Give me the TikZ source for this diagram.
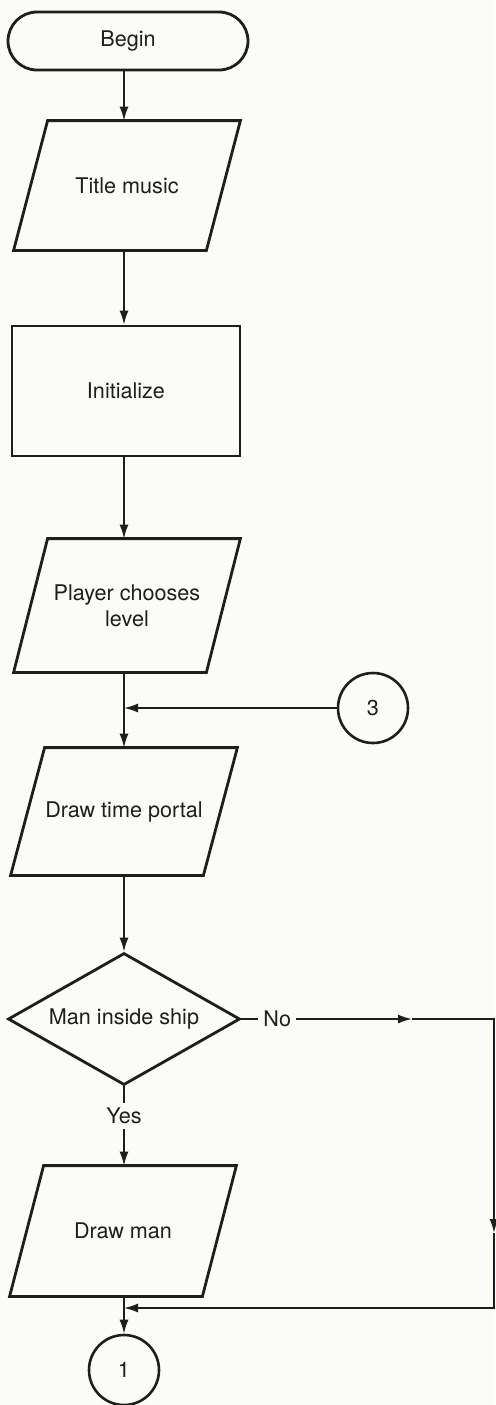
\documentclass[tikz,border=0pt]{standalone}
\usepackage{fontspec}
\setmainfont{TeX Gyre Heros}
\usetikzlibrary{arrows.meta,shapes.geometric,calc}
\definecolor{paper}{HTML}{FBFBF7}
\definecolor{ink}{HTML}{1E1E1E}
\tikzset{flow/.style={-{Latex[length=7pt,width=4.5pt]}, line width=.85pt, color=ink}, link/.style={line width=.85pt, color=ink}, term/.style={draw=ink, line width=1.4pt, rounded corners=14.5pt, minimum width=120pt, minimum height=29pt}, io/.style={rectangle, minimum width=96pt, minimum height=64.5pt, align=center, append after command={\pgfextra{\draw[ink, line width=1.4pt] ([xshift=-8.5pt]\tikzlastnode.south west) -- ([xshift=8.5pt]\tikzlastnode.north west) -- ([xshift=8.5pt]\tikzlastnode.north east) -- ([xshift=-8.5pt]\tikzlastnode.south east) -- cycle;}}}, proc/.style={rectangle, draw=ink, line width=1.4pt, minimum width=114pt, minimum height=65pt}, decide/.style={diamond, draw=ink, line width=1.4pt, shape aspect=1.75, inner sep=0pt, minimum width=116pt, minimum height=66pt}, conn/.style={circle, draw=ink, line width=1.3pt, minimum size=35pt, inner sep=0pt}, tag/.style={fill=paper, inner sep=2.5pt}}

\begin{document}
\begin{tikzpicture}[x=.5pt, y=-.5pt, font=\fontsize{10.8}{13}\selectfont, text=ink]
\fill[paper] (0,0) rectangle (495,1405);
\useasboundingbox (0,0) rectangle (495,1405);
\node[term] (begin) at (128,41) {Begin};
\node[io] (title) at (127,185.5) {Title music};
\node[proc] (init) at (126,391) {Initialize};
\node[io, minimum height=66.5pt] (player) at (127,605.5) {Player chooses\\level};
\node[conn] (c3) at (373,708) {3};
\node[io, minimum height=63.5pt] (portal) at (124,811.5) {Draw time portal};
\node[decide] (dec) at (124,1019) {Man inside ship};
\node[io, minimum height=65pt] (man) at (123,1231) {Draw man};
\node[conn] (c1) at (124,1370) {1};
\coordinate (join1) at (124,708);
\coordinate (join2) at (124,1308);
\coordinate (noTip) at (412,1019);
\coordinate (nE) at (494,1019);
\coordinate (dnTip) at (494,1233);
\coordinate (sE) at (494,1308);
\draw[flow] (begin.south -| join1) -- (title.north -| join1);
\draw[flow] (title.south -| join1) -- (init.north -| join1);
\draw[flow] (init.south -| join1) -- (player.north -| join1);
\draw[link] (player.south -| join1) -- (join1);
\draw[flow] (c3) -- (join1);
\draw[flow] (join1) -- (portal);
\draw[flow] (portal) -- (dec);
\draw[flow] (dec.south) -- node[tag, pos=.37] {Yes} (man.north -| dec.south);
% the No branch runs round the right edge and comes back in below
\draw[flow] (dec.east) -- node[tag, pos=.21] {No} (noTip);
\draw[flow] (noTip) -- (nE) -- (dnTip);
\draw[flow] (dnTip) -- (sE) -- (join2);
\draw[link] (man.south -| join2) -- (join2);
\draw[flow] (join2) -- (c1);
\end{tikzpicture}
\end{document}
